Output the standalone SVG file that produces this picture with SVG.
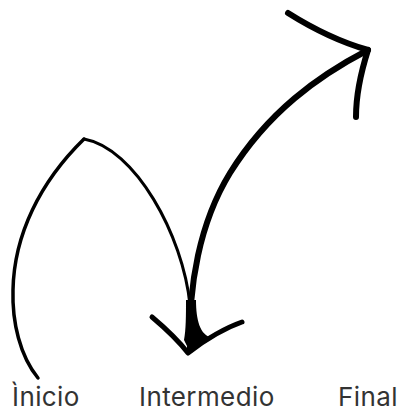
<svg xmlns="http://www.w3.org/2000/svg" width="400" height="413" viewBox="0 0 400 413">
  <style>
    .ln { fill: none; stroke: #000; stroke-linecap: round; stroke-linejoin: round; }
    .lbl { font-family: Inter, "Liberation Sans", sans-serif; font-size: 26px; letter-spacing: 0.4px; fill: #333; }
  </style>
  <rect width="400" height="413" fill="#fff"/>
  <g id="connectors">
    <path class="ln" stroke-width="3.5" d="M38,378 C20,356 12,322 13,290 C14,235 40,182 84,139"/>
    <path class="ln" stroke-width="3" d="M84,139 C135,148 183,235 190,305"/>
    <path class="ln" stroke-width="6" d="M190,350 C188,285 200,222 230,173 C268,112 318,76 368,50"/>
    <path fill="#000" d="M186,300 L196,300 C196,320 200,335 212,338 L190,352 L184,340 C186,330 186,315 186,300 Z"/>
    <path class="ln" stroke-width="5" d="M152,317 C165,328 178,340 188,353 C205,340 222,329 242,322"/>
    <path class="ln" stroke-width="6" d="M288,13 C315,30 340,42 368,50 C360,75 356,95 356,117"/>
  </g>
  <g id="inicio"><text class="lbl" x="12" y="406">Ìnicio</text></g>
  <g id="intermedio"><text class="lbl" x="139" y="406">Intermedio</text></g>
  <g id="final"><text class="lbl" x="338" y="406">Final</text></g>
</svg>
